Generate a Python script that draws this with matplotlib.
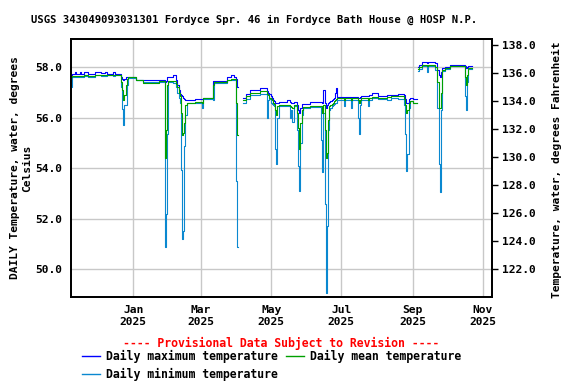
"""Daily water temperature at Fordyce Spr. 46 (USGS 343049093031301)."""

import matplotlib
matplotlib.use("Agg")
import matplotlib.dates as mdates
import matplotlib.pyplot as plt
from matplotlib.lines import Line2D
import numpy as np
import pandas as pd

NAN = float("nan")

# DATA: daily values in runs, day offsets counted from 2025-01-01
seg_start = [-54, -53, -50, -49, -46, -45, -42, -39, -33, -27, -24, -22, -17, -15,
             -10, -9, -8, -7, -6, -5, -4, 3, 9, 23, 28, 29, 30, 31, 35, 38, 39, 40,
             41, 42, 43, 44, 45, 46, 47, 54, 60, 61, 70, 71, 82, 86, 88, 90, 91, 92,
             96, 99, 102, 111, 117, 118, 119, 120, 121, 122, 123, 124, 125, 126,
             127, 134, 137, 138, 139, 140, 143, 144, 145, 146, 147, 148, 154, 164,
             165, 166, 167, 168, 169, 170, 171, 172, 173, 174, 175, 176, 177, 178,
             184, 185, 190, 191, 196, 197, 198, 199, 205, 206, 208, 213, 221, 225,
             231, 236, 237, 238, 239, 240, 241, 244, 247, 248, 249, 252, 256, 257,
             263, 265, 266, 267, 268, 269, 272, 276, 289, 290, 291, 292]
end_day = 296

seg_max = [57.70, 57.72, 57.82, 57.72, 57.82, 57.72, 57.82, 57.72, 57.82, 57.78, 57.82, 57.72, 57.82, 57.75,
           57.60, 57.55, 57.50, 57.55, 57.60, 57.62, 57.60, 57.50, 57.50, 57.50, 57.40, 57.45, 57.60, 57.62, 57.68, 57.50, 57.30, 57.10,
           56.95, 56.90, 56.85, 56.80, 56.75, 56.72, 56.72, 56.76, 56.76, 56.80, 57.45, 57.45, 57.62, 57.68, 57.62, 57.55, 57.20, NAN,
           56.80, 56.95, 57.10, 57.17, 57.05, 57.00, 56.95, 56.85, 56.80, 56.70, 56.65, 56.60, 56.60, 56.60,
           56.62, 56.70, 56.62, 56.60, 56.60, 56.62, 56.50, 56.30, 56.20, 56.40, 56.55, 56.55, 56.62, 56.62,
           56.60, 57.10, 56.60, 56.40, 56.50, 56.60, 56.62, 56.65, 56.70, 56.75, 56.80, 57.00, 57.17, 56.82,
           56.80, 56.82, 56.80, 56.82, 56.80, 56.80, 56.82, 56.85, 56.85, 56.90, 56.97, 56.87, 56.92, 56.90,
           56.94, 56.90, 56.75, 56.60, 56.60, 56.75, 56.80, 56.75, NAN, 58.02, 58.10, 58.22, 58.15, 58.22,
           58.18, 57.90, 57.70, 57.60, 57.80, 57.98, 58.02, 58.10, 58.05, 57.96, 58.00, 58.07]

seg_mean = [57.60, 57.65, 57.66, 57.65, 57.66, 57.65, 57.68, 57.65, 57.70, 57.68, 57.70, 57.68, 57.70, 57.68,
            57.40, 57.10, 56.72, 56.90, 57.30, 57.55, 57.60, 57.50, 57.37, 57.45, 54.40, 55.50, 57.30, 57.45, 57.47, 57.35, 57.20, 57.00,
            56.85, 56.20, 55.30, 55.40, 55.80, 56.50, 56.59, 56.62, 56.60, 56.77, 57.30, 57.40, 57.50, 57.52, 57.52, 56.60, 55.30, NAN,
            56.72, 56.85, 56.98, 57.05, 56.95, 56.90, 56.80, 56.75, 56.70, 56.60, 56.55, 56.30, 56.10, 56.45,
            56.50, 56.52, 56.45, 56.42, 56.40, 56.50, 56.20, 55.60, 54.75, 55.80, 56.30, 56.42, 56.48, 56.45,
            56.20, 56.50, 55.50, 54.40, 54.60, 55.90, 56.45, 56.50, 56.55, 56.60, 56.65, 56.70, 56.75, 56.77,
            56.70, 56.77, 56.72, 56.77, 56.70, 56.60, 56.72, 56.77, 56.72, 56.78, 56.82, 56.80, 56.82, 56.85,
            56.85, 56.75, 56.50, 56.20, 56.30, 56.60, 56.68, 56.60, NAN, 57.95, 58.00, 58.09, 58.07, 58.09,
            58.00, 57.40, 56.40, 56.40, 57.00, 57.90, 57.96, 58.07, 57.60, 57.30, 57.70, 57.98]

seg_min = [57.20, 57.62, 57.62, 57.60, 57.62, 57.60, 57.65, 57.60, 57.70, 57.65, 57.66, 57.70, 57.66, 57.68,
           57.20, 56.33, 55.73, 56.50, 56.50, 57.30, 57.58, 57.48, 57.42, 57.42, 50.90, 52.20, 55.35, 57.40, 57.38, 57.20, 57.00, 56.80,
           56.60, 53.95, 51.20, 51.50, 54.90, 56.10, 56.58, 56.60, 56.40, 56.74, 56.70, 57.38, 57.50, 57.50, 57.48, 53.50, 50.90, NAN,
           56.60, 56.75, 56.90, 56.95, 56.00, 56.70, 56.75, 56.60, 56.55, 56.50, 56.45, 54.75, 54.17, 56.00,
           56.45, 56.45, 56.00, 56.30, 55.85, 56.45, 55.50, 54.10, 53.10, 55.00, 56.10, 56.40, 56.44, 55.10,
           53.85, 56.20, 52.60, 49.07, 51.70, 55.50, 56.30, 56.40, 56.45, 56.50, 56.55, 56.60, 56.60, 56.70,
           56.45, 56.70, 56.40, 56.72, 56.00, 55.35, 56.50, 56.72, 56.45, 56.72, 56.78, 56.75, 56.72, 56.78,
           56.75, 56.50, 55.35, 53.90, 54.55, 56.40, 56.65, 56.60, NAN, 57.85, 57.95, 58.05, 57.82, 58.05,
           57.90, 56.40, 54.17, 53.06, 56.30, 57.85, 57.92, 58.05, 56.85, 56.32, 57.40, 57.95]

left_ticks = [50.0, 52.0, 54.0, 56.0, 58.0]
right_ticks = [122.0, 124.0, 126.0, 128.0, 130.0, 132.0, 134.0, 136.0, 138.0]
c_limits = (48.90, 59.12)

TITLE = "USGS 343049093031301 Fordyce Spr. 46 in Fordyce Bath House @ HOSP N.P."
COLOR_MAX = "#0000ff"
COLOR_MEAN = "#00a000"
COLOR_MIN = "#0a88d0"


def c_to_f(c):
    return c * 1.8 + 32.0


# EXPAND RUNS INTO DAILY SERIES
lengths = np.diff(seg_start + [end_day])
day_offsets = np.arange(seg_start[0], end_day)
dates = pd.Timestamp("2025-01-01") + pd.to_timedelta(day_offsets, unit="D")
t_max = np.repeat(seg_max, lengths)
t_mean = np.repeat(seg_mean, lengths)
t_min = np.repeat(seg_min, lengths)

plt.rcParams["font.family"] = ["DejaVu Sans Mono"]
plt.rcParams["font.weight"] = "bold"

fig = plt.figure(figsize=(5.76, 3.84), dpi=100)
ax = fig.add_axes([71 / 576, 1 - 297 / 384, (492 - 71) / 576, (297 - 39) / 384])

line_kw = dict(lw=0.8, drawstyle="steps-mid")
ax.plot(dates, t_max, color=COLOR_MAX, zorder=3, **line_kw)
ax.plot(dates, t_min, color=COLOR_MIN, zorder=3, **line_kw)
ax.plot(dates, t_mean, color=COLOR_MEAN, zorder=4, **line_kw)

ax.set_xlim(pd.Timestamp("2024-11-08"), pd.Timestamp("2025-11-09"))
ax.set_ylim(*c_limits)
ax.set_yticks(left_ticks)
ax.set_yticklabels([f"{v:.1f}" for v in left_ticks])
ax.xaxis.set_major_locator(mdates.MonthLocator(bymonth=[1, 3, 5, 7, 9, 11]))
ax.xaxis.set_major_formatter(mdates.DateFormatter("%b\n%Y"))
ax.grid(True, color="#c8c8c8", lw=1.0, zorder=0)
ax.tick_params(axis="both", length=0, labelsize=8.1, pad=6)
for sp in ax.spines.values():
    sp.set_linewidth(1.3)

ax2 = ax.twinx()
ax2.set_ylim(c_to_f(c_limits[0]), c_to_f(c_limits[1]))
ax2.set_yticks(right_ticks)
ax2.set_yticklabels([f"{v:.1f}" for v in right_ticks])
ax2.tick_params(axis="y", length=4, width=1, labelsize=8.1, pad=3)
for sp in ax2.spines.values():
    sp.set_linewidth(1.3)

# TEXTS
fig.text(254 / 576, 1 - 20 / 384, TITLE, ha="center", va="center", fontsize=7.6)
fig.text(21 / 576, 1 - 168 / 384, "DAILY Temperature, water, degrees\nCelsius",
         rotation=90, ha="center", va="center", fontsize=8.1, linespacing=1.2,
         multialignment="center")
fig.text(557 / 576, 1 - 170 / 384, "Temperature, water, degrees Fahrenheit",
         rotation=90, ha="center", va="center", fontsize=8.1)
fig.text(281 / 576, 1 - 343 / 384, "---- Provisional Data Subject to Revision ----",
         ha="center", va="center", fontsize=8.3, color="red")

handles = [
    Line2D([], [], color=COLOR_MAX, lw=1.0),
    Line2D([], [], color=COLOR_MIN, lw=1.0),
    Line2D([], [], color=COLOR_MEAN, lw=1.0),
]
labels = ["Daily maximum temperature", "Daily minimum temperature", "Daily mean temperature"]
fig.legend(handles, labels, loc="upper left", bbox_to_anchor=(82 / 576, 1 - 350 / 384),
           ncol=2, frameon=False, fontsize=8.3, handlelength=1.6, handletextpad=0.5,
           columnspacing=0.65, labelspacing=0.4, borderpad=0, borderaxespad=0)

fig.savefig("out.png", dpi=100)
